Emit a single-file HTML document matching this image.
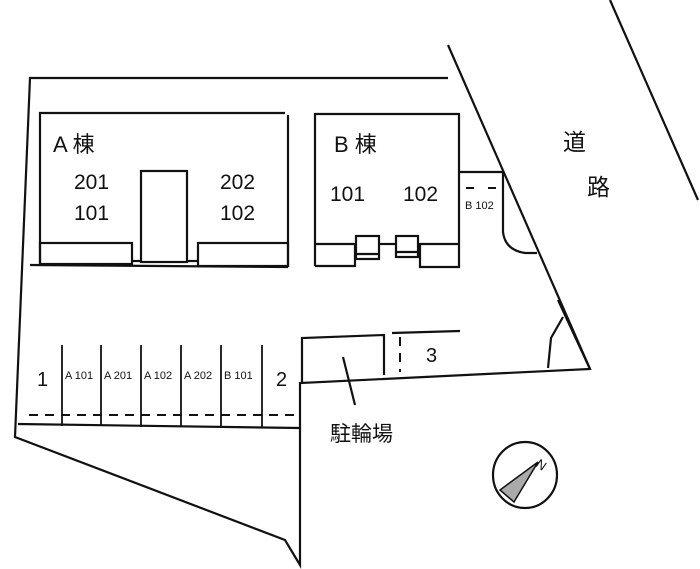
<!DOCTYPE html>
<html><head><meta charset="utf-8"><style>
html,body{margin:0;padding:0;background:#fff}
svg{display:block}
text{font-family:"Liberation Sans","Noto Sans CJK JP",sans-serif;fill:#111}
</style></head><body>
<svg width="700" height="569" viewBox="0 0 700 569" xmlns="http://www.w3.org/2000/svg">
<g fill="none" stroke="#111" stroke-width="2.2">
<polyline points="448,78 30,78 15,437 285,540 300,565 300,383 590,369 558,300"/>
<line x1="448" y1="45" x2="590" y2="369"/>
<line x1="610" y1="0" x2="698" y2="200"/>
<polyline points="40,265 40,113 285,113"/>
<line x1="288" y1="115" x2="288" y2="267"/>
<line x1="30" y1="265" x2="288" y2="267"/>
<rect x="40" y="243" width="92" height="21"/>
<rect x="198" y="243" width="90" height="23"/>
<rect x="141" y="171" width="46" height="91"/>
<line x1="132" y1="261" x2="141" y2="261"/>
<line x1="187" y1="261" x2="198" y2="261"/>
<polyline points="315,266 315,114 459,114 459,267 420,267 420,244"/>
<polyline points="315,244 355,244 355,266 315,266"/>
<line x1="379" y1="244" x2="395" y2="244"/>
<line x1="418" y1="244" x2="459" y2="244"/>
<rect x="356" y="236" width="23" height="23"/>
<rect x="396" y="236" width="22" height="21"/>
<line x1="356" y1="254" x2="379" y2="254"/>
<line x1="396" y1="252" x2="418" y2="252"/>
<polyline points="459,172 503,172"/>
<path d="M503,172 L503,232 Q505,250 525,253 L537,253"/>
<line x1="18" y1="424" x2="300" y2="428"/>
<g stroke-width="1.8">
<line x1="62" y1="345" x2="62" y2="426"/>
<line x1="101" y1="345" x2="101" y2="426"/>
<line x1="141" y1="345" x2="141" y2="427"/>
<line x1="181" y1="345" x2="181" y2="427"/>
<line x1="221" y1="345" x2="221" y2="427"/>
<line x1="262" y1="345" x2="262" y2="428"/>
</g>
<g stroke-dasharray="9,7" stroke-width="2">
<line x1="29" y1="415" x2="300" y2="415"/>
<line x1="400" y1="337" x2="400" y2="372"/>
</g>
<polyline points="302,383 302,338 384,335 384,375"/>
<line x1="343" y1="357" x2="355" y2="405"/>
<line x1="392" y1="333" x2="460" y2="331"/>
<polyline points="563,317 551,338 548,368"/>
<ellipse cx="525" cy="475" rx="32" ry="33"/>
</g>
<polygon points="538,462 500,490 514,502" fill="#aaa" stroke="#111" stroke-width="1.5"/>
<text x="538" y="468" font-size="13" transform="rotate(35 540 462)">N</text>
<g font-size="21">
<text x="53" y="152" font-size="22">A 棟</text>
<text x="74" y="189">201</text>
<text x="74" y="220">101</text>
<text x="220" y="189">202</text>
<text x="220" y="220">102</text>
<text x="334" y="152" font-size="22">B 棟</text>
<text x="330" y="201">101</text>
<text x="403" y="201">102</text>
<text x="37" y="386" font-size="20">1</text>
<text x="276" y="386" font-size="20">2</text>
<text x="426" y="362" font-size="20">3</text>
<text x="330" y="441" font-size="21">駐輪場</text>
<text x="563" y="150" font-size="23">道</text>
<text x="587" y="195" font-size="23">路</text>
</g>
<g font-size="11">
<text x="65" y="379">A 101</text>
<text x="104" y="379">A 201</text>
<text x="144" y="379">A 102</text>
<text x="184" y="379">A 202</text>
<text x="224" y="379">B 101</text>
<text x="465" y="209">B 102</text>
</g>
<g stroke="#111" stroke-width="2"><line x1="466" y1="188" x2="474" y2="188"/><line x1="488" y1="188" x2="496" y2="188"/></g>
</svg>
</body></html>
